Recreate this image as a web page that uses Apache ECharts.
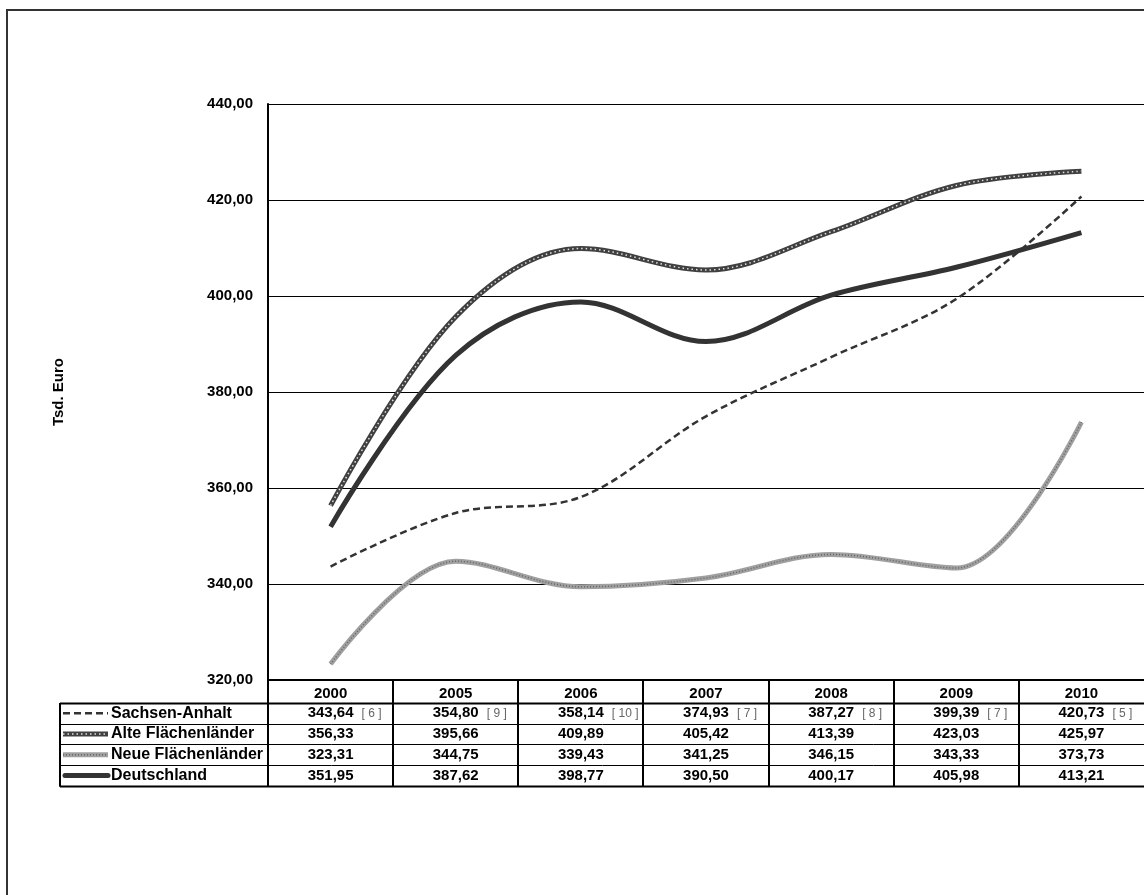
<!DOCTYPE html>
<html>
<head>
<meta charset="utf-8">
<title>Tsd. Euro</title>
<script src="https://cdn.jsdelivr.net/npm/echarts@6/dist/echarts.min.js"></script>
<style>
  html, body { margin: 0; padding: 0; background: #fff; }
  #chart { width: 1144px; height: 895px; }
</style>
</head>
<body>
<div id="chart"></div>
<script>
// Daten
var years = ['2000', '2005', '2006', '2007', '2008', '2009', '2010'];
var sachsenAnhalt = [343.64, 354.80, 358.14, 374.93, 387.27, 399.39, 420.73];
var saFootnotes = ['6', '9', '10', '7', '8', '7', '5'];
var alteLaender = [356.33, 395.66, 409.89, 405.42, 413.39, 423.03, 425.97];
var neueLaender = [323.31, 344.75, 339.43, 341.25, 346.15, 343.33, 373.73];
var deutschland = [351.95, 387.62, 398.77, 390.50, 400.17, 405.98, 413.21];
var yMin = 320, yMax = 440, yStep = 20;

var rowNames = ['Sachsen-Anhalt', 'Alte Flächenländer', 'Neue Flächenländer', 'Deutschland'];
var rowValues = [sachsenAnhalt, alteLaender, neueLaender, deutschland];

var FONT = '"Liberation Sans", Arial, sans-serif';
var SMOOTH = 0.35;

function fmt(v) {
    return v.toFixed(2).replace('.', ',');
}

var chartDom = document.getElementById('chart');
var myChart = echarts.init(chartDom);

var option = {
    animation: false,
    backgroundColor: '#fff',
    grid: {
        left: 268,
        top: 104,
        right: 0,
        bottom: 215,
        containLabel: false
    },
    xAxis: {
        type: 'category',
        data: years,
        boundaryGap: true,
        axisLine: { lineStyle: { color: '#000', width: 2 } },
        axisTick: { show: false },
        axisLabel: {
            margin: 6,
            color: '#000',
            fontFamily: FONT,
            fontWeight: 'bold',
            fontSize: 15
        },
        splitLine: { show: false }
    },
    yAxis: {
        type: 'value',
        min: yMin,
        max: yMax,
        interval: yStep,
        name: 'Tsd. Euro',
        nameLocation: 'middle',
        nameRotate: 90,
        nameGap: 202,
        nameTextStyle: {
            color: '#000',
            fontFamily: FONT,
            fontWeight: 'bold',
            fontSize: 15
        },
        axisLine: { show: true, lineStyle: { color: '#000', width: 2 } },
        axisTick: { show: false },
        axisLabel: {
            margin: 15,
            color: '#000',
            fontFamily: FONT,
            fontWeight: 'bold',
            fontSize: 15,
            formatter: function (v) { return fmt(v); }
        },
        splitLine: { show: true, lineStyle: { color: '#000', width: 1 } }
    },
    series: [
        {
            name: 'Neue Flächenländer',
            type: 'line',
            data: neueLaender,
            smooth: SMOOTH,
            symbol: 'none',
            lineStyle: { color: '#a0a0a0', width: 5 }
        },
        {
            name: 'Neue Flächenländer (Textur)',
            type: 'line',
            data: neueLaender,
            smooth: SMOOTH,
            symbol: 'none',
            silent: true,
            lineStyle: { color: '#666', width: 1.5, type: [1, 2] }
        },
        {
            name: 'Sachsen-Anhalt',
            type: 'line',
            data: sachsenAnhalt,
            smooth: SMOOTH,
            symbol: 'none',
            lineStyle: { color: '#333', width: 2.5, type: [7, 4] }
        },
        {
            name: 'Alte Flächenländer',
            type: 'line',
            data: alteLaender,
            smooth: SMOOTH,
            symbol: 'none',
            lineStyle: { color: '#404040', width: 5 }
        },
        {
            name: 'Alte Flächenländer (Textur)',
            type: 'line',
            data: alteLaender,
            smooth: SMOOTH,
            symbol: 'none',
            silent: true,
            lineStyle: { color: '#e0e0e0', width: 1.5, type: [1.5, 3] }
        },
        {
            name: 'Deutschland',
            type: 'line',
            data: deutschland,
            smooth: SMOOTH,
            symbol: 'none',
            lineStyle: { color: '#333', width: 5 }
        }
    ]
};
myChart.setOption(option);

// Datentabelle unter der Achse
function buildTable() {
    var g = [];
    var centers = years.map(function (y, i) {
        return myChart.convertToPixel({ xAxisIndex: 0 }, i);
    });
    var colW = centers.length > 1 ? centers[1] - centers[0] : 120;
    var plotLeft = centers[0] - colW / 2;
    var plotRight = centers[centers.length - 1] + colW / 2;
    var axisY = myChart.convertToPixel({ yAxisIndex: 0 }, yMin);
    var headerH = 23;
    var rowH = 20.7;
    var tableLeft = 60;
    var top0 = axisY + headerH;
    var bottom = top0 + rowH * rowNames.length;

    // Rahmen
    g.push({
        type: 'rect', shape: { x: 7, y: 10, width: 1300, height: 1000 },
        style: { fill: 'none', stroke: '#333', lineWidth: 2 }, z: 1
    });

    // waagerechte Linien
    for (var r = 0; r <= rowNames.length; r++) {
        var yy = Math.round(top0 + r * rowH) + 0.5;
        var thick = (r === 0 || r === rowNames.length);
        g.push({
            type: 'line',
            shape: { x1: tableLeft, y1: yy, x2: plotRight + 5, y2: yy },
            style: { stroke: '#000', lineWidth: thick ? 2 : 1 }, z: 10
        });
    }
    g.push({
        type: 'line',
        shape: { x1: tableLeft, y1: top0, x2: tableLeft, y2: bottom + 1 },
        style: { stroke: '#000', lineWidth: 2 }, z: 10
    });
    // Spaltentrenner
    for (var c = 0; c < centers.length; c++) {
        var xx = Math.round(plotLeft + c * colW);
        g.push({
            type: 'line',
            shape: { x1: xx, y1: axisY, x2: xx, y2: bottom + 1 },
            style: { stroke: '#000', lineWidth: 2 }, z: 10
        });
    }

    // Legendenschluessel und Zeilen
    var sx1 = 63, sx2 = 108;
    rowNames.forEach(function (name, r) {
        var cy = top0 + r * rowH + rowH / 2;
        if (r === 0) {
            g.push({ type: 'line', shape: { x1: sx1, y1: cy, x2: sx2, y2: cy },
                style: { stroke: '#333', lineWidth: 2.5, lineDash: [7, 4] }, z: 11 });
        } else if (r === 1) {
            g.push({ type: 'line', shape: { x1: sx1, y1: cy, x2: sx2, y2: cy },
                style: { stroke: '#404040', lineWidth: 5 }, z: 11 });
            g.push({ type: 'line', shape: { x1: sx1, y1: cy, x2: sx2, y2: cy },
                style: { stroke: '#e0e0e0', lineWidth: 1.5, lineDash: [1.5, 3] }, z: 12 });
        } else if (r === 2) {
            g.push({ type: 'line', shape: { x1: sx1, y1: cy, x2: sx2, y2: cy },
                style: { stroke: '#a0a0a0', lineWidth: 5 }, z: 11 });
            g.push({ type: 'line', shape: { x1: sx1, y1: cy, x2: sx2, y2: cy },
                style: { stroke: '#666', lineWidth: 1.5, lineDash: [1, 2] }, z: 12 });
        } else {
            g.push({ type: 'line', shape: { x1: sx1 + 2, y1: cy, x2: sx2, y2: cy },
                style: { stroke: '#333', lineWidth: 5, lineCap: 'round' }, z: 11 });
        }
        g.push({
            type: 'text', x: 111, y: cy, z: 12,
            style: {
                text: name, fill: '#000', font: 'bold 16px ' + FONT,
                textAlign: 'left', textVerticalAlign: 'middle'
            }
        });
        rowValues[r].forEach(function (v, i) {
            g.push({
                type: 'text', x: centers[i], y: cy, z: 12,
                style: {
                    text: fmt(v), fill: '#000', font: 'bold 15px ' + FONT,
                    textAlign: 'center', textVerticalAlign: 'middle'
                }
            });
            if (r === 0) {
                g.push({
                    type: 'text', x: centers[i] + 31, y: cy, z: 12,
                    style: {
                        text: '[ ' + saFootnotes[i] + ' ]', fill: '#666', font: '12px ' + FONT,
                        textAlign: 'left', textVerticalAlign: 'middle'
                    }
                });
            }
        });
    });
    myChart.setOption({ graphic: { elements: g } });
}
buildTable();
</script>
</body>
</html>
